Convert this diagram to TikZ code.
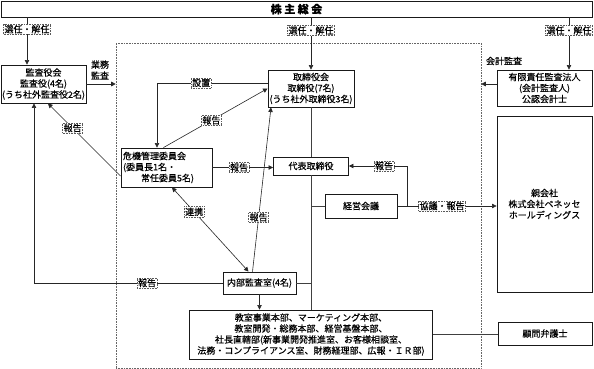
\documentclass[tikz,border=0pt]{standalone}
\usepackage{fontspec}
\setmainfont{Noto Sans CJK JP}[FakeBold=0.4]
\usetikzlibrary{arrows.meta,positioning}

\begin{document}
\begin{tikzpicture}[x=1pt,y=-1pt,font=\fontsize{9}{11}\selectfont,
 box/.style={draw=black!90,line width=.9pt,align=center,inner sep=1pt,fill=white},
 lbl/.style={draw=black!65,densely dotted,line width=.6pt,fill=white,inner sep=1pt,font=\fontsize{9}{10}\selectfont},
 arr/.style={draw=black!85,line width=.6pt,-{Triangle[length=4.5pt,width=4.5pt]}},
 arr2/.style={draw=black!85,line width=.6pt,{Triangle[length=4.5pt,width=4.5pt]}-{Triangle[length=4.5pt,width=4.5pt]}},
 ln/.style={draw=black!75,line width=.7pt}]
\useasboundingbox (0,0) rectangle (594,369);
% company frame
\node[draw=black!60,densely dotted,line width=.6pt,minimum width=365pt,minimum height=325pt,inner sep=0pt] (grp) at (298.5,205.5) {};
\node[box,minimum width=591pt,minimum height=16pt,font=\fontsize{11}{13}\selectfont\bfseries] (gm) at (296.5,9) {株\hspace{2.5pt}主\hspace{2.5pt}総\hspace{2.5pt}会};
\node[box,minimum width=85pt,minimum height=38pt] (kansa) at (43.5,84) {監査役会\\監査役(4名)\\(うち社外監査役2名)};
\node[box,minimum width=86pt,minimum height=37pt] (tori) at (311,88.5) {取締役会\\取締役(7名)\\(うち社外取締役3名)};
\node[box,minimum width=95pt,minimum height=36pt] (firm) at (544.5,88) {有限責任監査法人\\(会計監査人)\\公認会計士};
\node[box,minimum width=95pt,minimum height=176pt] (parent) at (544.5,204) {親会社\\株式会社ベネッセ\\ホールディングス};
\node[box,align=left,text width=87pt,inner xsep=2pt,minimum height=39pt] (kiki) at (166.5,167.5) {危機管理委員会\\(委員長1名・\\\hspace*{2em}常任委員5名)};
\node[box,minimum width=75pt,minimum height=18pt] (daihyo) at (311,166) {代表取締役};
\node[box,minimum width=72pt,minimum height=24pt] (keiei) at (361,206) {経営会議};
\node[box,minimum width=73pt,minimum height=22pt] (naibu) at (259.5,283) {内部監査室(4名)};
\node[box,minimum width=243pt,minimum height=49pt] (depts) at (311,334.5) {教室事業本部、マーケティング本部、\\教室開発・総務本部、経営基盤本部、\\社長直轄部(新事業開発推進室、お客様相談室、\\法務・コンプライアンス室、財務経理部、広報・ＩＲ部)};
\node[box,minimum width=94pt,minimum height=23pt] (lawyer) at (545,333.5) {顧問弁護士};
\node[align=center] (gyomu) at (100,70) {業務\\監査};
\node (kaikei) at (504,61) {会計監査};
% appointment
\foreach \n/\dx in {kansa/-16.5,tori/0,firm/24.5}
 \draw[arr] ([xshift=\dx pt]\n.north |- gm.south) -- node[lbl,pos=.25]{選任・解任} ([xshift=\dx pt]\n.north);
\draw[arr] (kansa.east) -- (kansa.east -| grp.west);
\draw[arr] ([yshift=4pt]firm.west) -- ([yshift=4pt]firm.west -| grp.east);
% committee
\draw[arr] ([yshift=5.5pt]tori.west) -| node[lbl,pos=.3]{設置} ([xshift=-9.5pt]kiki.north);
\draw[arr] ([xshift=-3pt]kiki.north) -- node[lbl,pos=.46]{報告} (tori.west);
\draw[arr] ([yshift=-8.5pt]kiki.west) -- node[lbl,pos=.66]{報告} ([xshift=4.5pt]kansa.south);
\draw[arr] (kiki.east) -- node[lbl,pos=.44]{報告} (kiki.east -| daihyo.west);
\draw[arr2] ([xshift=5.5pt]kiki.south) -- node[lbl,pos=.29]{連携} ([xshift=-11pt]naibu.north);
% internal audit
\draw[arr] ([xshift=-7pt]naibu.north) -- node[lbl,pos=.33]{報告} ([xshift=-40pt]tori.south);
\draw[arr] (naibu.west) -| node[lbl,pos=.2]{報告} ([xshift=-9.5pt]kansa.south);
% spine
\draw[ln] (tori.south) -- (daihyo.north) (daihyo.south) -- (depts.north);
\draw[ln] (keiei.west) -- (keiei.west -| daihyo.south);
\draw[ln] (naibu.east) -- (naibu.east -| daihyo.south);
\draw[arr] (naibu.south) -- (naibu.south |- depts.north);
\draw[ln] (depts.east) -- (depts.east -| lawyer.west);
\coordinate[right=10pt of keiei.east] (jn);
\draw[arr] (keiei.east) -- node[lbl,pos=.45]{協議・報告} (keiei.east -| parent.west);
\draw[arr] (jn) |- node[lbl,pos=.7]{報告} (daihyo.east);
\end{tikzpicture}
\end{document}
